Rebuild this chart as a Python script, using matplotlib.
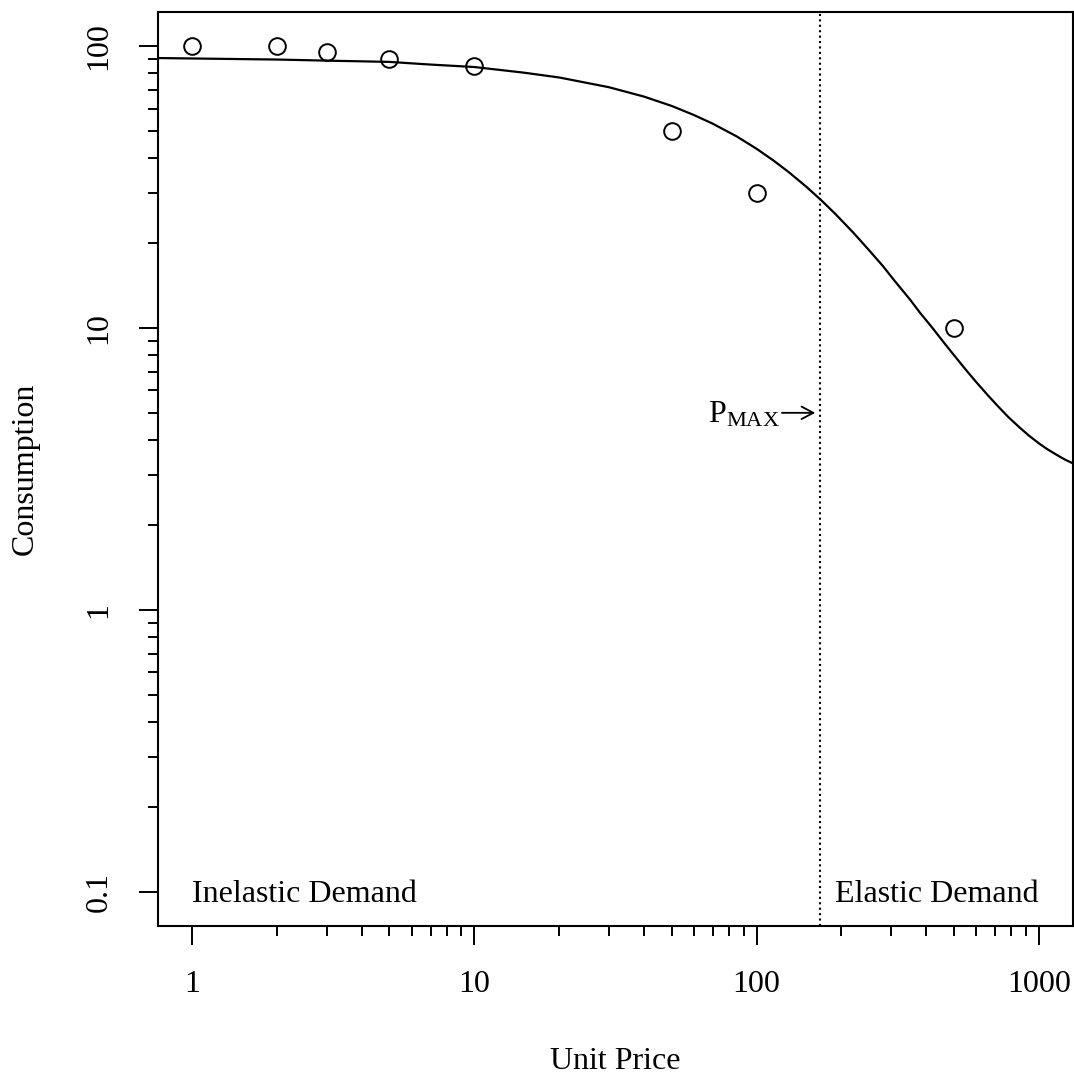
import numpy as np
import matplotlib
matplotlib.use("Agg")
import matplotlib.pyplot as plt
from matplotlib.ticker import FixedLocator, NullFormatter

plt.rcParams['font.family'] = ['Liberation Serif', 'DejaVu Serif']
plt.rcParams['mathtext.fontset'] = 'custom'
plt.rcParams['mathtext.rm'] = 'Liberation Serif'
plt.rcParams['mathtext.it'] = 'Liberation Serif:italic'

# observed consumption
price = [1, 2, 3, 5, 10, 50, 100, 500]
consumption = [100, 100, 95, 90, 85, 50, 30, 10]

# fitted demand curve
curve_price = [0.758, 2, 3, 5, 7, 10, 15, 20, 30, 40, 50, 60, 70, 85, 100,
               115, 130, 150, 170, 190, 220, 250, 280, 310, 350, 380, 420,
               460, 500, 550, 600, 660, 720, 780, 850, 920, 1000, 1070,
               1150, 1240, 1321]
curve_cons = [90.6, 89.5, 88.7, 87.8, 85.9, 84.2, 80.4, 77.3, 71.4, 66.1,
              61.3, 56.9, 53.0, 47.8, 43.2, 39.2, 35.7, 31.7, 28.3, 25.4,
              21.8, 18.9, 16.6, 14.6, 12.6, 11.3, 10.0, 8.90, 8.02, 7.13,
              6.43, 5.77, 5.25, 4.83, 4.46, 4.16, 3.90, 3.72, 3.56, 3.41,
              3.31]

pmax = 168
x_ticks = [1, 10, 100, 1000]
y_ticks = [0.1, 1, 10, 100]
fs = 23

fig = plt.figure(figsize=(10.74, 10.77), dpi=100)
ax = fig.add_axes([0.1471, 0.1402, 0.8519, 0.8487])

ax.plot(curve_price, curve_cons, color='black', lw=1.6)
ax.plot(price, consumption, 'o', mfc='none', mec='black', ms=12, mew=1.4)
ax.axvline(pmax, color='black', lw=1.5, ls=(0, (1, 1.6)))

ax.set_xscale('log')
ax.set_yscale('log')
ax.set_xlim(0.758, 1321)
ax.set_ylim(0.0757, 132)

ax.xaxis.set_major_locator(FixedLocator(x_ticks))
ax.yaxis.set_major_locator(FixedLocator(y_ticks))
ax.set_xticklabels([str(t) for t in x_ticks])
ax.set_yticklabels(['0.1', '1', '10', '100'], rotation=90, va='center')
ax.xaxis.set_minor_locator(FixedLocator([m * 10 ** d for d in range(3) for m in range(2, 10)]))
ax.yaxis.set_minor_locator(FixedLocator([m * 10 ** d for d in range(-1, 2) for m in range(2, 10)]))
ax.xaxis.set_minor_formatter(NullFormatter())
ax.yaxis.set_minor_formatter(NullFormatter())

ax.tick_params(which='major', direction='out', length=14, width=1.4,
               labelsize=fs, pad=18)
ax.tick_params(which='minor', direction='out', length=7, width=1.4)
for s in ax.spines.values():
    s.set_linewidth(1.5)

ax.set_xlabel('Unit Price', fontsize=fs, labelpad=34)
ax.set_ylabel('Consumption', fontsize=fs, labelpad=32)

ax.annotate('Inelastic Demand', (1, 0.1), xytext=(0, -2), textcoords='offset points',
            fontsize=fs, ha='left', va='center')
ax.annotate('Elastic Demand', (pmax, 0.1), xytext=(11, -2), textcoords='offset points',
            fontsize=fs, ha='left', va='center')

# P_MAX label with an open arrow pointing at the dotted line
ax.annotate('', xy=(pmax, 5), xytext=(-27.5, 0), textcoords='offset points',
            xycoords='data',
            arrowprops=dict(arrowstyle='->,head_length=0.85,head_width=0.45',
                            color='black', lw=1.3, shrinkA=0, shrinkB=3.5))
ax.annotate(r'$\mathrm{P}_{\mathrm{MAX}}$', (pmax, 5), xytext=(-29, -1.5),
            textcoords='offset points', fontsize=fs, ha='right', va='center')

fig.savefig('out.png', dpi=100)
